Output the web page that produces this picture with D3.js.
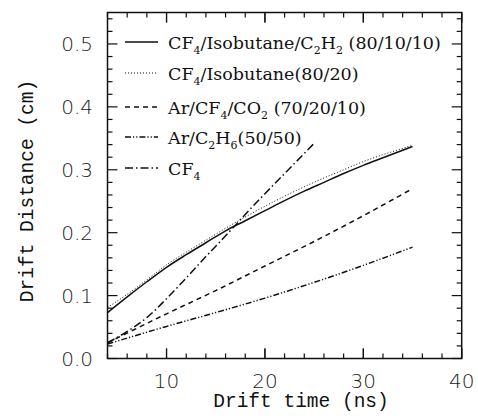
<!DOCTYPE html>
<html>
<head>
<meta charset="utf-8">
<script src="https://cdn.jsdelivr.net/npm/d3@7"></script>
<style>
  body { margin: 0; background: #fff; }
  .tick-label { font-family: "DejaVu Sans", sans-serif; font-weight: 200; font-size: 20px; fill: #222; }
  .axis-title { font-family: "Liberation Mono", monospace; font-size: 19.5px; fill: #111; }
  .legend-label { font-family: "DejaVu Serif", serif; font-size: 17.5px; fill: #111; }
</style>
</head>
<body>
<svg id="chart"></svg>
<script>
// chart data
var timeTicks = [10, 20, 30, 40],
  distTicks = [0.0, 0.1, 0.2, 0.3, 0.4, 0.5];

var isoC2H2X = [4, 6, 8, 10, 12, 14, 16, 18, 20, 22, 24, 26, 28, 30, 32, 34, 35],
  isoC2H2Y = [0.073, 0.098, 0.122, 0.145, 0.165, 0.184, 0.203, 0.219, 0.235, 0.251, 0.266, 0.280, 0.294, 0.307, 0.319, 0.331, 0.337];

var isoX = [4, 6, 8, 10, 12, 14, 16, 18, 20, 22, 24, 26, 28, 30, 32, 34, 35],
  isoY = [0.081, 0.102, 0.125, 0.149, 0.169, 0.188, 0.207, 0.225, 0.242, 0.258, 0.273, 0.287, 0.300, 0.313, 0.324, 0.334, 0.339];

var arCo2X = [4, 10, 15, 20, 25, 30, 35],
  arCo2Y = [0.025, 0.071, 0.108, 0.147, 0.186, 0.227, 0.270];

var arEthX = [4, 10, 15, 20, 25, 30, 35],
  arEthY = [0.023, 0.051, 0.073, 0.096, 0.121, 0.148, 0.177];

var cf4X = [4, 6, 8, 10, 12, 14, 16, 18, 20, 22, 24, 25],
  cf4Y = [0.025, 0.043, 0.065, 0.095, 0.128, 0.162, 0.195, 0.229, 0.262, 0.294, 0.326, 0.342];

// "_x" marks a subscript character
var labels = [
  "CF_4/Isobutane/C_2H_2 (80/10/10)",
  "CF_4/Isobutane(80/20)",
  "Ar/CF_4/CO_2 (70/20/10)",
  "Ar/C_2H_6(50/50)",
  "CF_4"
];

var dashes = [null, "1,2", "5,4", "6,2,1.2,2,1.2,2", "8,3,1.5,3"];
var legendY = [42, 73, 107, 137, 168];

var series = [
  { x: isoC2H2X, y: isoC2H2Y },
  { x: isoX, y: isoY },
  { x: arCo2X, y: arCo2Y },
  { x: arEthX, y: arEthY },
  { x: cf4X, y: cf4Y }
];

var width = 478, height = 420,
  margin = { top: 12.5, right: 16.3, bottom: 61.5, left: 107.5 };

var svg = d3.select("#chart")
  .attr("width", width)
  .attr("height", height);

var x = d3.scaleLinear().domain([4, 40]).range([margin.left, width - margin.right]),
  y = d3.scaleLinear().domain([0, 0.55]).range([height - margin.bottom, margin.top]);

var minorX = d3.range(4, 40.01, 2),
  minorY = d3.range(0, 0.5501, 0.02);

function isMajorX(d) { return Math.abs(d % 10) < 1e-6; }
function isMajorY(d) { return Math.abs(Math.round(d * 10) - d * 10) < 1e-6; }

// ticks, all pointing inward, mirrored on the four sides
var tickG = svg.append("g").attr("stroke", "#111").attr("stroke-width", 1.2);

tickG.selectAll(".xb").data(minorX.concat(timeTicks)).enter().append("line")
  .attr("x1", function(d) { return x(d); })
  .attr("x2", function(d) { return x(d); })
  .attr("y1", y(0))
  .attr("y2", function(d) { return y(0) - (isMajorX(d) ? 10 : 5); });

tickG.selectAll(".xt").data(minorX.concat(timeTicks)).enter().append("line")
  .attr("x1", function(d) { return x(d); })
  .attr("x2", function(d) { return x(d); })
  .attr("y1", y(0.55))
  .attr("y2", function(d) { return y(0.55) + (isMajorX(d) ? 10 : 5); });

tickG.selectAll(".yl").data(minorY).enter().append("line")
  .attr("x1", x(4))
  .attr("x2", function(d) { return x(4) + (isMajorY(d) ? 10 : 5); })
  .attr("y1", function(d) { return y(d); })
  .attr("y2", function(d) { return y(d); });

tickG.selectAll(".yr").data(minorY).enter().append("line")
  .attr("x1", x(40))
  .attr("x2", function(d) { return x(40) - (isMajorY(d) ? 10 : 5); })
  .attr("y1", function(d) { return y(d); })
  .attr("y2", function(d) { return y(d); });

// frame
svg.append("rect")
  .attr("x", x(4)).attr("y", y(0.55))
  .attr("width", x(40) - x(4)).attr("height", y(0) - y(0.55))
  .attr("fill", "none").attr("stroke", "#111").attr("stroke-width", 1.5);

// tick labels
svg.selectAll(".xl").data(timeTicks).enter().append("text")
  .attr("class", "tick-label")
  .attr("x", function(d) { return x(d); })
  .attr("y", 388)
  .attr("text-anchor", "middle")
  .text(function(d) { return d; });

svg.selectAll(".yl-t").data(distTicks).enter().append("text")
  .attr("class", "tick-label")
  .attr("x", 93)
  .attr("y", function(d) { return y(d) + 7; })
  .attr("text-anchor", "end")
  .text(function(d) { return d3.format(".1f")(d); });

// axis titles
svg.append("text").attr("class", "axis-title")
  .attr("x", 301).attr("y", 407)
  .attr("text-anchor", "middle")
  .text("Drift time (ns)");

svg.append("text").attr("class", "axis-title")
  .attr("transform", "translate(33,191) rotate(-90)")
  .attr("text-anchor", "middle")
  .text("Drift Distance (cm)");

// curves
var line = d3.line()
  .x(function(d) { return x(d[0]); })
  .y(function(d) { return y(d[1]); })
  .curve(d3.curveMonotoneX);

svg.selectAll(".curve").data(series).enter().append("path")
  .attr("class", "curve")
  .attr("d", function(s) { return line(d3.zip(s.x, s.y)); })
  .attr("fill", "none")
  .attr("stroke", "#111")
  .attr("stroke-width", function(s, i) { return i === 1 ? 1 : 1.5; })
  .attr("stroke-dasharray", function(s, i) { return dashes[i]; });

// legend
var leg = svg.selectAll(".leg").data(labels).enter().append("g")
  .attr("transform", function(d, i) { return "translate(0," + legendY[i] + ")"; });

leg.append("line")
  .attr("x1", 125).attr("x2", 158)
  .attr("stroke", "#111")
  .attr("stroke-width", function(d, i) { return i === 1 ? 1 : 1.5; })
  .attr("stroke-dasharray", function(d, i) { return dashes[i]; });

leg.append("text")
  .attr("class", "legend-label")
  .attr("x", 168).attr("y", 7)
  .each(function(d) {
    var t = d3.select(this);
    var parts = d.split(/(_.)/).filter(function(p) { return p; });
    var shift = 0;
    parts.forEach(function(p) {
      if (p[0] === "_") {
        t.append("tspan").attr("font-size", "11px").attr("dy", 5 - shift).text(p[1]);
        shift = 5;
      } else {
        t.append("tspan").attr("dy", -shift).text(p);
        shift = 0;
      }
    });
  });
</script>
</body>
</html>
